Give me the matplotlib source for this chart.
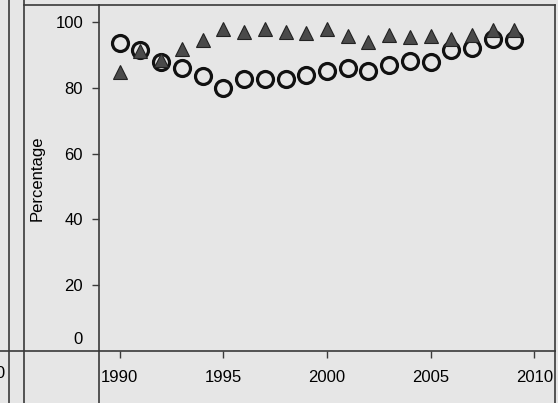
import matplotlib.pyplot as plt
from matplotlib.lines import Line2D

# data
years = list(range(1990, 2010))
circles = [93.7, 91.5, 88.0, 86.0, 83.6, 80.0, 82.7, 82.7, 82.7, 84.0,
           85.2, 86.0, 85.0, 87.0, 88.2, 88.0, 91.5, 92.0, 95.0, 94.7]
triangles = [84.7, 91.3, 88.5, 91.8, 94.5, 97.8, 97.0, 97.8, 97.0, 96.8,
             97.8, 95.8, 94.0, 96.0, 95.4, 95.8, 95.0, 96.0, 97.5, 97.5]
yticks = [20, 40, 60, 80, 100]
xticks = [1990, 1995, 2000, 2005, 2010]

plt.rcParams['font.family'] = ['Liberation Sans', 'DejaVu Sans']
bg = '#e6e6e6'
edge = '#3a3a3a'
W, H = 558, 403

fig = plt.figure(figsize=(W / 100, H / 100), dpi=100, facecolor=bg)
ax = fig.add_axes([99 / W, (H - 351) / H, (555 - 99) / W, (351 - 5) / H])
ax.set_facecolor(bg)

ax.plot(years, circles, linestyle='none', marker='o', markersize=11.5,
        markerfacecolor='none', markeredgecolor='#111111', markeredgewidth=2.3)
ax.plot(years, triangles, linestyle='none', marker='^', markersize=10,
        markerfacecolor='#4a4a4a', markeredgecolor='#222222', markeredgewidth=0.8)

ax.set_xlim(1989, 2011)
ax.set_ylim(0, 105.2)
ax.set_xticks(xticks)
ax.set_yticks(yticks)
ax.tick_params(axis='both', labelsize=12, colors=edge, labelcolor='black',
               length=5, width=1)
ax.tick_params(axis='y', pad=6.5)
ax.tick_params(axis='x', pad=9)
ax.text(-0.037, 0.012, '0', transform=ax.transAxes, ha='right', va='bottom',
        fontsize=12)
ax.set_ylabel('Percentage', fontsize=12, labelpad=8)
for s in ax.spines.values():
    s.set_color(edge)
    s.set_linewidth(1.2)

# surrounding panel frame lines from the larger figure
def fline(x0, y0, x1, y1):
    fig.add_artist(Line2D([x0 / W, x1 / W], [1 - y0 / H, 1 - y1 / H],
                          transform=fig.transFigure, color=edge, lw=1.2))

fline(9, 0, 9, H)
fline(24, 0, 24, H)
fline(99, 351, 99, H)
fline(555, 351, 555, H)
fline(0, 351, 99, 351)
fline(24, 5, 99, 5)
fig.text(5 / W, 1 - 373 / H, '2010', ha='right', va='center', fontsize=12)

plt.savefig('out.png', dpi=100, facecolor=bg)
